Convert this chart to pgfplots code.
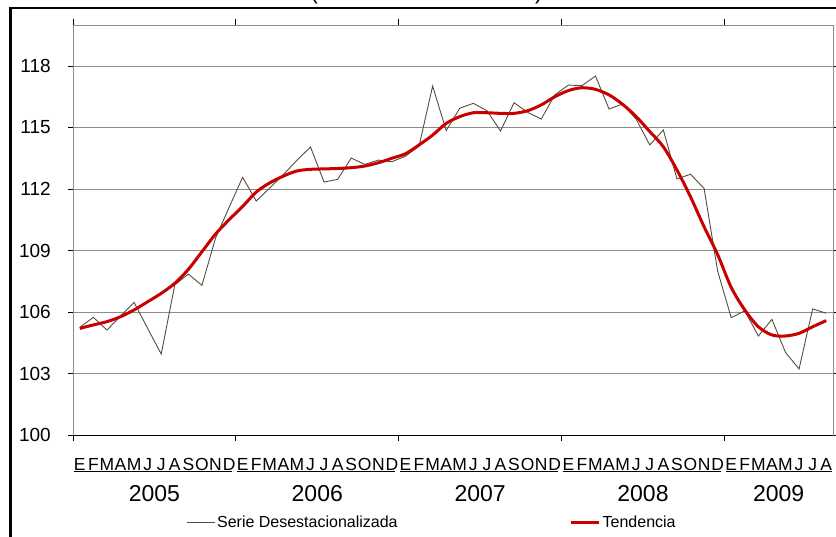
\documentclass[border=0pt]{standalone}
\usepackage{pgfplots}
\usepackage{pgfplotstable}
\pgfplotsset{compat=1.18}
\usepackage{fontspec}
\setmainfont{Liberation Sans}
\definecolor{serie}{RGB}{85,78,60}
\definecolor{tend}{RGB}{200,0,0}
\definecolor{gridc}{RGB}{140,140,140}

\pgfplotstableread{
i serie tend
0 105.25 105.20
1 105.74 105.37
2 105.12 105.53
3 105.80 105.77
4 106.47 106.10
5 105.20 106.50
6 103.95 106.91
7 107.32 107.40
8 107.85 108.08
9 107.30 108.94
10 109.60 109.80
11 111.10 110.50
12 112.57 111.15
13 111.41 111.85
14 112.05 112.30
15 112.70 112.63
16 113.40 112.88
17 114.05 112.96
18 112.34 112.98
19 112.47 113.00
20 113.51 113.04
21 113.20 113.12
22 113.41 113.28
23 113.33 113.50
24 113.60 113.72
25 114.10 114.15
26 117.02 114.63
27 114.85 115.20
28 115.94 115.53
29 116.18 115.72
30 115.82 115.72
31 114.83 115.69
32 116.21 115.69
33 115.74 115.82
34 115.41 116.10
35 116.59 116.50
36 117.07 116.80
37 117.04 116.94
38 117.51 116.86
39 115.90 116.59
40 116.15 116.13
41 115.40 115.53
42 114.15 114.80
43 114.88 114.06
44 112.49 112.93
45 112.72 111.62
46 112.03 110.16
47 108.00 108.80
48 105.72 107.20
49 106.06 106.10
50 104.83 105.28
51 105.64 104.88
52 104.03 104.83
53 103.22 104.96
54 106.15 105.28
55 105.94 105.58
}\datatable

\begin{document}
\begin{tikzpicture}[x=1pt,y=1pt]
\useasboundingbox (0,0) rectangle (836,536);
\node[anchor=base, inner sep=0pt, font=\fontsize{22}{22}\selectfont] at (426.5,536.5) {(índice base 2005=100)};
\draw[line width=2.4pt] (10.3,-20) -- (10.3,528.2) -- (860,528.2);
\begin{axis}[
  at={(73pt,101pt)}, anchor=south west,
  scale only axis, width=760pt, height=410pt,
  xmin=-0.5, xmax=55.5, ymin=100, ymax=120,
  clip mode=individual,
  /pgf/number format/assume math mode=true,
  ytick={100,103,...,118},
  ymajorgrids, grid style={gridc, line width=0.9pt},
  axis line style={gridc, line width=0.9pt},
  tick align=outside,
  ytick style={black, line width=0.8pt},
  y tick label style={font=\fontsize{19}{19}\selectfont, anchor=east, xshift=-13.7pt},
  xtick={0,...,55},
  xticklabels={E,F,M,A,M,J,J,A,S,O,N,D,E,F,M,A,M,J,J,A,S,O,N,D,E,F,M,A,M,J,J,A,S,O,N,D,E,F,M,A,M,J,J,A,S,O,N,D,E,F,M,A,M,J,J,A},
  xtick style={draw=none},
  x tick label style={font=\fontsize{17.5}{17.5}\selectfont, anchor=base, yshift=-30pt},
  major tick length=5pt,
  extra x ticks={-0.5,11.5,23.5,35.5,47.5},
  extra x tick labels={},
  extra x tick style={xtick style={draw=black, line width=0.8pt}, major tick length=6pt},
  legend style={at={(axis description cs:0.1487,-0.2122)}, anchor=west, draw=none, fill=none,
    legend columns=2, font=\fontsize{16}{16}\selectfont, inner sep=0pt,
    /tikz/every even column/.append style={column sep=170pt}},
  legend cell align=left,
  legend image code/.code={\draw[#1] (0pt,0pt) -- (28pt,0pt);},
]
\addplot[serie, line width=0.9pt, mark=none] table[x=i, y=serie] {\datatable};
\addlegendentry{Serie Desestacionalizada}
\addplot[tend, line width=3pt, mark=none, smooth] table[x=i, y=tend] {\datatable};
\addlegendentry{Tendencia}
\draw[black, line width=1pt] (axis cs:-0.5,100) -- (axis cs:55.5,100);
\draw[black, line width=0.9pt] ([yshift=-36pt]axis cs:-0.45,100) -- ([yshift=-36pt]axis cs:11.25,100);
\draw[black, line width=0.9pt] ([yshift=-36pt]axis cs:11.6,100) -- ([yshift=-36pt]axis cs:23.25,100);
\draw[black, line width=0.9pt] ([yshift=-36pt]axis cs:23.6,100) -- ([yshift=-36pt]axis cs:35.25,100);
\draw[black, line width=0.9pt] ([yshift=-36pt]axis cs:35.6,100) -- ([yshift=-36pt]axis cs:47.25,100);
\draw[black, line width=0.9pt] ([yshift=-36pt]axis cs:47.6,100) -- ([yshift=-36pt]axis cs:55.4,100);
\node[anchor=base, inner sep=0pt, font=\fontsize{23}{23}\selectfont] at ([yshift=-66.7pt]axis cs:5.5,100) {2005};
\node[anchor=base, inner sep=0pt, font=\fontsize{23}{23}\selectfont] at ([yshift=-66.7pt]axis cs:17.5,100) {2006};
\node[anchor=base, inner sep=0pt, font=\fontsize{23}{23}\selectfont] at ([yshift=-66.7pt]axis cs:29.5,100) {2007};
\node[anchor=base, inner sep=0pt, font=\fontsize{23}{23}\selectfont] at ([yshift=-66.7pt]axis cs:41.5,100) {2008};
\node[anchor=base, inner sep=0pt, font=\fontsize{23}{23}\selectfont] at ([yshift=-66.7pt]axis cs:51.5,100) {2009};
\end{axis}
\end{tikzpicture}
\end{document}
